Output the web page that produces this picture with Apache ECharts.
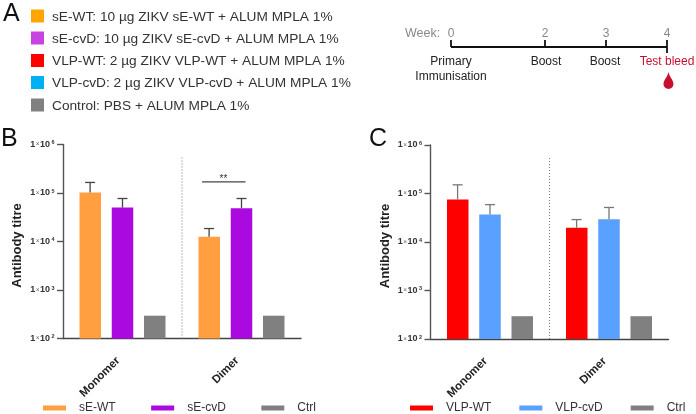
<!DOCTYPE html>
<html><head><meta charset="utf-8">
<style>html,body{margin:0;padding:0;background:#fff}#c{width:696px;height:414px}</style>
<script src="https://cdn.jsdelivr.net/npm/echarts@6/dist/echarts.min.js"></script>
</head><body><div id="c"></div>
<script>
const categories = ['Monomer','Dimer'];
const seNames = ['sE-WT','sE-cvD','Ctrl'];
const seColors = ['#ff9f40','#aa0ae0','#808080'];
const seWT = [102000,12500];
const seCvD = [50000,48700];
const seCtrl = [295,295];
const seWTErr = [165000,18500];
const seCvDErr = [77000,77000];
const vlpNames = ['VLP-WT','VLP-cvD','Ctrl'];
const vlpColors = ['#ff0000','#5aa0ff','#808080'];
const vlpWT = [75000,19600];
const vlpCvD = [37000,29600];
const vlpCtrl = [295,295];
const vlpWTErr = [151000,29000];
const vlpCvDErr = [59000,51500];
const legendRows = [
 ['sE-WT: 10 µg ZIKV sE-WT + ALUM MPLA 1%','#ffa500'],
 ['sE-cvD: 10 µg ZIKV sE-cvD + ALUM MPLA 1%','#c844e0'],
 ['VLP-WT: 2 µg ZIKV VLP-WT + ALUM MPLA 1%','#ff0000'],
 ['VLP-cvD: 2 µg ZIKV VLP-cvD + ALUM MPLA 1%','#00b0f5'],
 ['Control: PBS + ALUM MPLA 1%','#808080']];
const weeks = ['0','2','3','4'];
const weekEvents = [['Primary','Immunisation'],['Boost'],['Boost'],['Test bleed']];
const FONT = 'Liberation Sans, Arial, sans-serif';
const BAR = 21.5, STEP = 32.4;

function errSeries(name, gi, vals, errs, slot, color){
  return {type:'custom',name:name+' err',xAxisIndex:gi,yAxisIndex:gi,z:3,silent:true,clip:false,
    data:vals.map((v,i)=>[i,v,errs[i]]),encode:{x:0,y:[1,2]},
    renderItem(p,api){
      const a=api.coord([api.value(0),api.value(1)]),b=api.coord([api.value(0),api.value(2)]);
      const x=a[0]+slot*STEP, st={stroke:color,lineWidth:1.3};
      return {type:'group',children:[
        {type:'line',shape:{x1:x,y1:a[1],x2:x,y2:b[1]},style:st},
        {type:'line',shape:{x1:x-5,y1:b[1],x2:x+5,y2:b[1]},style:st}]};
    }};
}
function divider(gi){
  return {type:'custom',name:'divider',xAxisIndex:gi,yAxisIndex:gi,silent:true,z:2,
    data:[[0,100,550000]],encode:{x:0,y:[1,2]},
    renderItem(p,api){
      const a=api.coord([0,api.value(1)]),b=api.coord([1,api.value(2)]);
      const x=(a[0]+b[0])/2;
      return {type:'line',shape:{x1:x,y1:a[1],x2:x,y2:b[1]},style:{stroke:'#777',lineWidth:1,lineDash:[1,2]}};
    }};
}
function bars(names,colors,arrs,gi){
  return names.map((n,k)=>({type:'bar',name:n,xAxisIndex:gi,yAxisIndex:gi,data:arrs[k],
    barWidth:BAR,barGap:'50%',itemStyle:{color:colors[k]},silent:true}));
}
const yLabel=v=>{const e=Math.round(Math.log10(v));return '{a|1}{x|\u00d7}{a|10}{s|'+e+'}';};
function axes(gi){
  return {
   x:{type:'category',gridIndex:gi,data:categories,
      axisLine:{lineStyle:{color:'#444',width:1.4}},
      axisTick:{alignWithLabel:true,length:6,lineStyle:{color:'#444',width:1.4}},
      axisLabel:{rotate:45,interval:0,margin:16,padding:[0,6,0,0],color:'#222',fontFamily:FONT,fontWeight:'bold',fontSize:11.5}},
   y:{type:'log',logBase:10,gridIndex:gi,min:100,max:1000000,
      name:'Antibody titre',nameLocation:'middle',nameGap:39,
      nameTextStyle:{color:'#222',fontFamily:FONT,fontWeight:'bold',fontSize:13,padding:[0,8,0,0]},
      axisLine:{show:true,lineStyle:{color:'#555',width:1.4}},
      axisTick:{show:true,length:6,lineStyle:{color:'#555',width:1.4}},
      minorTick:{show:false},splitLine:{show:false},
      axisLabel:{margin:8.5,formatter:yLabel,color:'#222',
        rich:{a:{fontFamily:FONT,fontWeight:'bold',fontSize:9,color:'#333'},
              x:{fontFamily:FONT,fontSize:6.5,color:'#666',padding:[0,0.5,0,0.5]},
              s:{fontFamily:FONT,fontWeight:'bold',fontSize:5.5,color:'#333',padding:[0,0,4,1.5]}}}}
  };
}
const A0=axes(0),A1=axes(1);
const gfx=[];
[['A',3,2],['B',1,127],['C',369,127]].forEach(l=>gfx.push({type:'text',x:l[1],y:l[2],
  style:{text:l[0],fontFamily:FONT,fontSize:25,fill:'#111'}}));
const rowY=[16,38,60.5,82.5,105];
legendRows.forEach((r,i)=>{
  gfx.push({type:'rect',shape:{x:31,y:rowY[i]-6.5,width:13,height:13},style:{fill:r[1]}});
  gfx.push({type:'text',x:52,y:rowY[i]+1,style:{text:r[0],fontFamily:FONT,fontSize:13.7,fill:'#333',verticalAlign:'middle'}});
});
const wx=[451,545,606,667];
gfx.push({type:'line',shape:{x1:451,y1:47,x2:667,y2:47},style:{stroke:'#111',lineWidth:1.8}});
gfx.push({type:'text',x:405,y:34,style:{text:'Week:',fontFamily:FONT,fontSize:12.5,fill:'#888',verticalAlign:'middle'}});
const evX=[451,546,605,667];
weeks.forEach((w,i)=>{
  gfx.push({type:'line',shape:{x1:wx[i],y1:40,x2:wx[i],y2:i==3?53:47},style:{stroke:'#111',lineWidth:1.8}});
  gfx.push({type:'text',x:wx[i],y:34,style:{text:w,fontFamily:FONT,fontSize:12,fill:'#888',align:'center',verticalAlign:'middle'}});
  weekEvents[i].forEach((t,j)=>gfx.push({type:'text',x:evX[i],y:62+j*15,style:{text:t,fontFamily:FONT,fontSize:12,
    fill:i==3?'#c8102e':'#222',align:'center',verticalAlign:'middle'}}));
});
const legendText={fontFamily:FONT,fontSize:12,color:'#333',rich:{p:{width:8},t:{fontFamily:FONT,fontSize:12,color:'#333'}}};
const chart=echarts.init(document.getElementById('c'),null,{renderer:'canvas'});
chart.setOption({
 animation:false,
 grid:[{left:63,top:144.5,width:238,height:194},{left:430.5,top:145,width:238,height:194}],
 xAxis:[A0.x,A1.x],yAxis:[A0.y,A1.y],
 legend:[
  {data:seNames,left:43,top:402,padding:0,itemWidth:23,itemHeight:5,itemGap:35.5,icon:'rect',selectedMode:false,
   formatter:n=>'{p|}{t|'+n+'}',textStyle:legendText},
  {data:vlpNames,left:410,top:402,padding:0,itemWidth:23,itemHeight:5,itemGap:28,icon:'rect',selectedMode:false,
   formatter:n=>'{p|}{t|'+n+'}',textStyle:legendText}],
 series:[
  ...bars(seNames,seColors,[seWT,seCvD,seCtrl],0),
  errSeries('sE-WT',0,seWT,seWTErr,-1,'#444'),
  errSeries('sE-cvD',0,seCvD,seCvDErr,0,'#444'),
  divider(0),
  {type:'custom',name:'sig',xAxisIndex:0,yAxisIndex:0,silent:true,z:3,data:[[1,170000]],encode:{x:0,y:1},
   renderItem(p,api){const c=api.coord([api.value(0),api.value(1)]);
     return {type:'group',children:[
      {type:'line',shape:{x1:c[0]-39.5,y1:c[1],x2:c[0]+4,y2:c[1]},style:{stroke:'#444',lineWidth:1.2}},
      {type:'text',x:c[0]-18,y:c[1]+2,style:{text:'**',fontFamily:FONT,fontSize:10,fill:'#333',align:'center',verticalAlign:'bottom'}}]};}},
  ...bars(vlpNames,vlpColors,[vlpWT,vlpCvD,vlpCtrl],1),
  errSeries('VLP-WT',1,vlpWT,vlpWTErr,-1,'#777'),
  errSeries('VLP-cvD',1,vlpCvD,vlpCvDErr,0,'#777'),
  divider(1),
  {type:'custom',name:'drop',coordinateSystem:'none',silent:true,data:[[0]],
   renderItem(){return {type:'path',shape:{pathData:'M5,0 C6,5 10,8 10,12 A5,5 0 1 1 0,12 C0,8 4,5 5,0 Z',layout:'cover',x:663.5,y:72,width:10,height:17},style:{fill:'#c8102e'}};}}
 ],
 graphic:gfx
});
</script></body></html>
